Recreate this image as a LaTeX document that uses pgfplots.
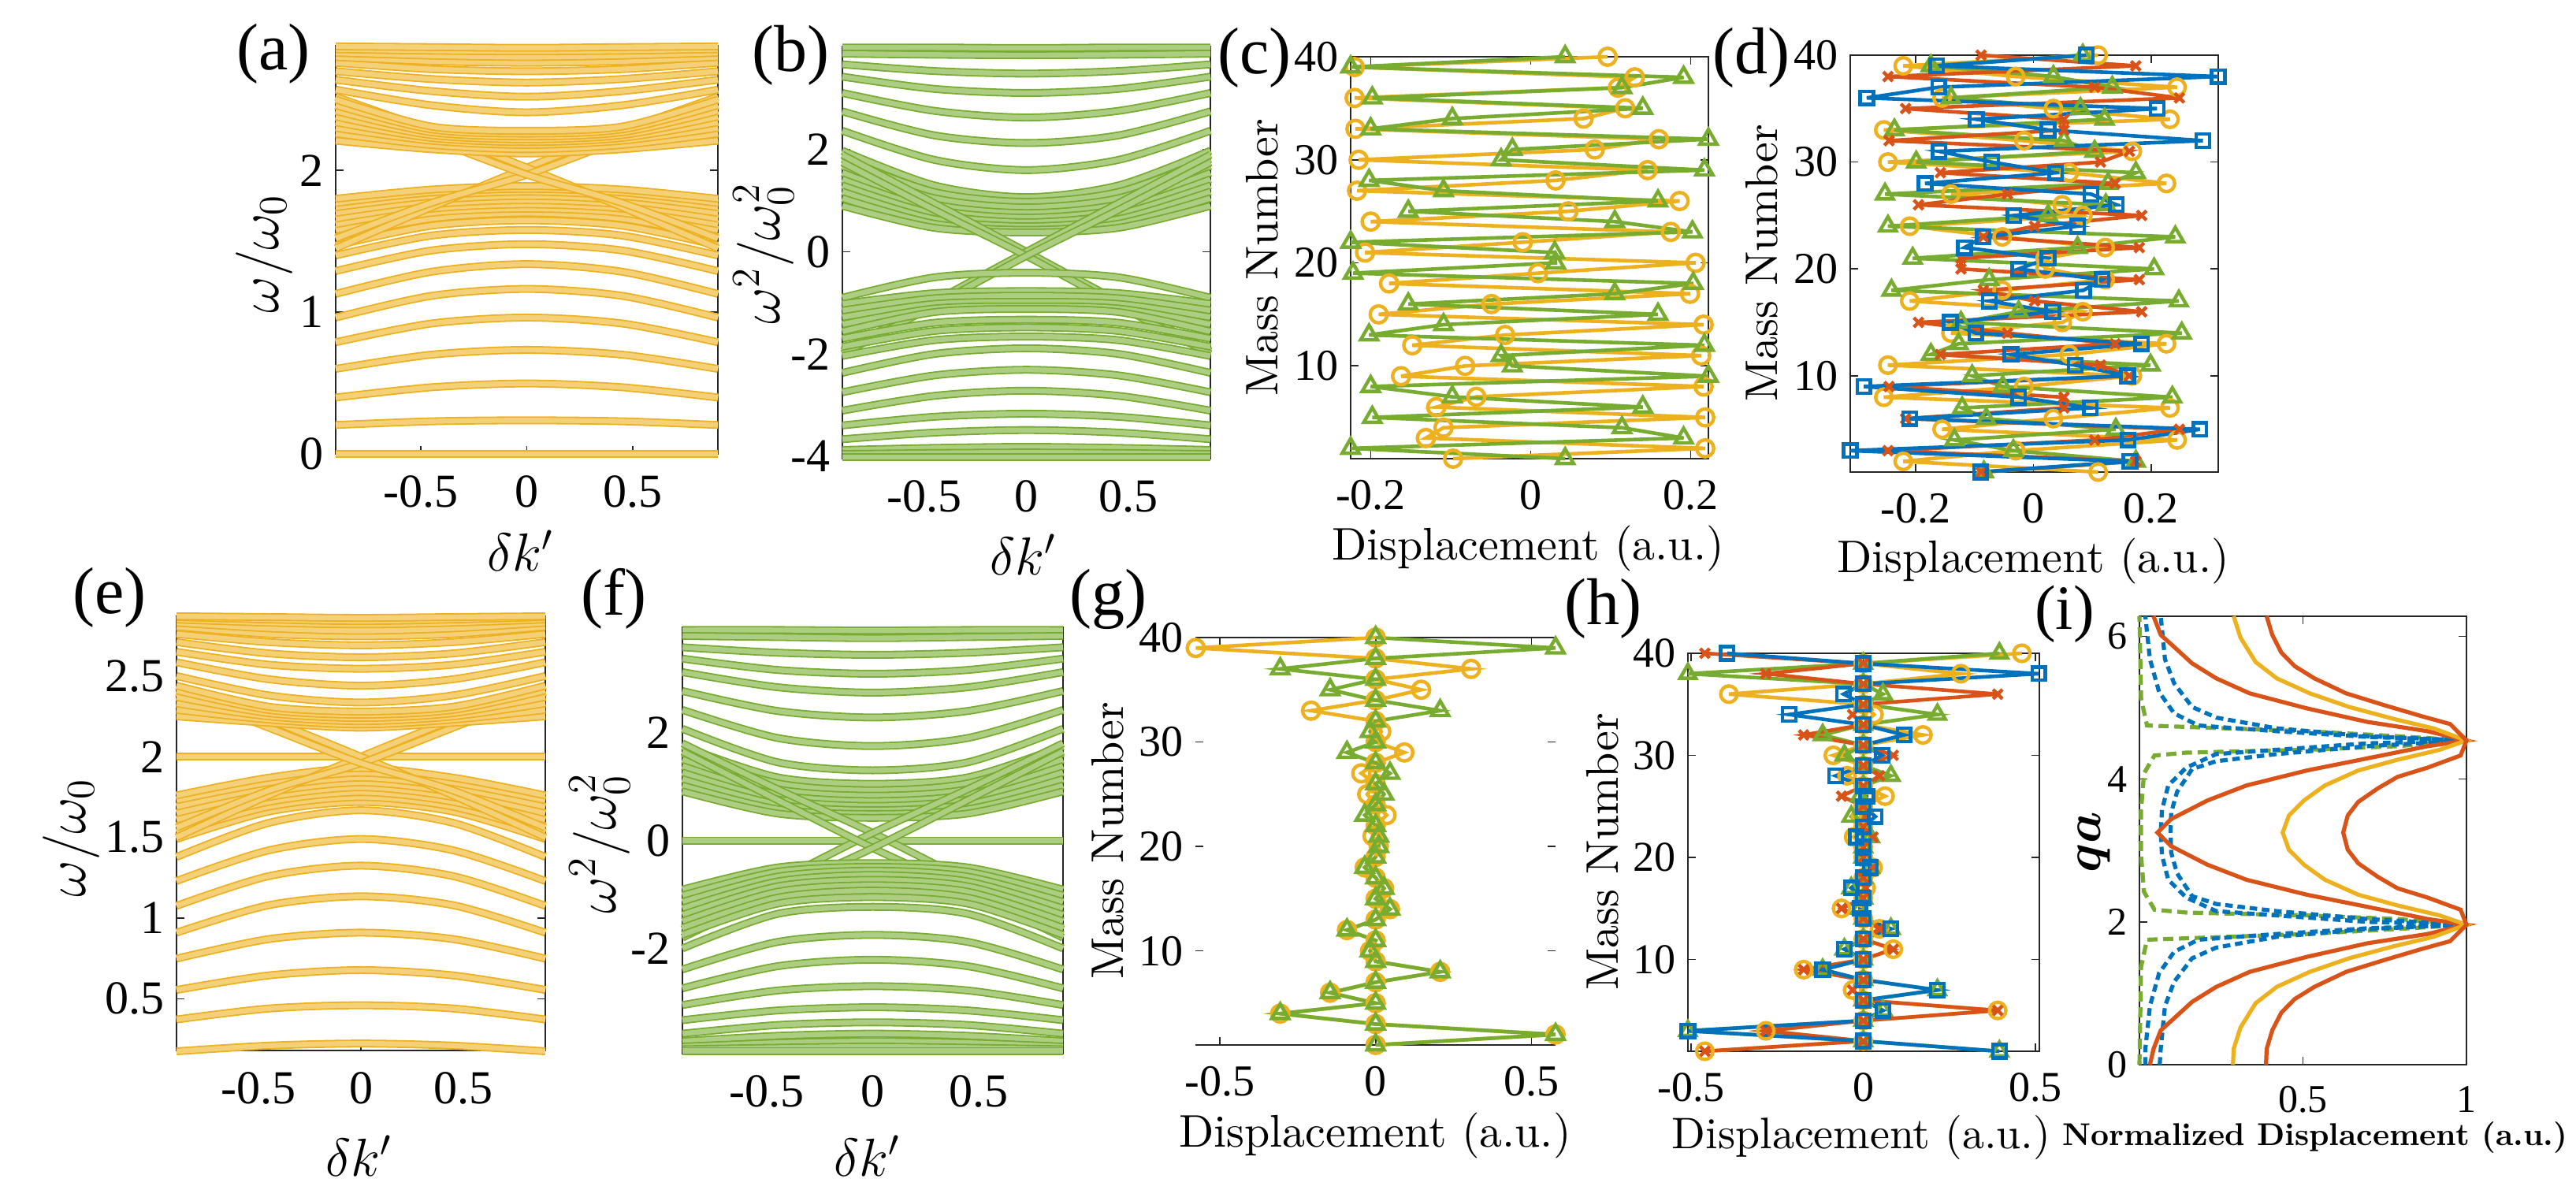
\documentclass[border=0pt]{standalone}
\usepackage{fix-cm}
\usepackage{amsmath}
\usepackage{fontspec}
\usepackage{pgfplots}
\pgfplotsset{compat=1.18}
\newfontfamily\tnr{Liberation Serif}
\newfontfamily\lmten{lmroman10-regular}[Extension=.otf, BoldFont=lmroman10-bold]

\definecolor{mBlue}{rgb}{0,0.447,0.741}
\definecolor{mRed}{rgb}{0.85,0.325,0.098}
\definecolor{mOrange}{rgb}{0.929,0.694,0.125}
\definecolor{mGreen}{rgb}{0.466,0.674,0.188}
\definecolor{frame}{rgb}{0.15,0.15,0.15}

\newcommand\fs[1]{\fontsize{#1}{#1}\selectfont}
% symmetric band: value at the edge, half way, centre
\newcommand\bnd[3]{\addplot[thisband] coordinates {(-0.9,#1)(-0.45,#2)(0,#3)(0.45,#2)(0.9,#1)};}
% band given at five points
\newcommand\bndx[5]{\addplot[thisband] coordinates {(-0.9,#1)(-0.45,#2)(0,#3)(0.45,#4)(0.9,#5)};}

\pgfplotsset{
  fr/.style={scale only axis, anchor=south west, clip=false,
    axis line style={line width=0.4pt, frame},
    every tick/.style={line width=0.4pt, frame},
    tick align=inside, major tick length=2.4pt,
    tick label style={inner sep=1pt},
    xticklabel style={yshift=-5.6pt}, yticklabel style={xshift=-2.6pt}},
  band/.style={smooth, no markers, line width=0.45pt, draw=#1, double=#1!60, double distance=1.6pt},
  bandax/.style={fr, xmin=-0.9, xmax=0.9, xtick={-0.5,0,0.5}, xticklabels={-0.5,0,0.5},
    tick label style={font=\tnr\fs{15}}},
  disp/.style={line width=1.15pt, mark options={solid, line width=1.1pt}},
}
\tikzset{lab/.style={inner sep=0pt, outer sep=0pt}}

\begin{document}
\begin{tikzpicture}
\useasboundingbox (0,0) rectangle (817.25pt,380.75pt);

% (a)
\begin{axis}[bandax, at={(106.5pt,236.75pt)}, width=121.25pt, height=129.5pt,
  ymin=0, ymax=2.88, ytick={0,1,2}, yticklabels={0,1,2}, thisband/.style={band=mOrange}]
\bnd{0}{0}{0}
\bnd{0.204}{0.23}{0.237}
\bnd{0.398}{0.47}{0.497}
\bnd{0.60}{0.70}{0.734}
\bnd{0.788}{0.92}{0.962}
\bnd{0.962}{1.115}{1.164}
\bnd{1.129}{1.285}{1.339}
\bnd{1.29}{1.435}{1.48}
\bnd{1.40}{1.54}{1.58}
\bnd{1.47}{1.61}{1.648}
\bnd{1.53}{1.66}{1.70}
\bnd{1.58}{1.70}{1.73}
\bnd{1.62}{1.73}{1.76}
\bnd{1.66}{1.76}{1.79}
\bnd{1.70}{1.79}{1.82}
\bnd{1.74}{1.82}{1.85}
\bnd{1.77}{1.845}{1.87}
\bnd{1.80}{1.865}{1.89}
\bndx{1.45}{1.74}{2.02}{2.28}{2.52}
\bndx{2.52}{2.28}{2.02}{1.74}{1.45}
\bndx{1.52}{1.77}{1.97}{2.22}{2.46}
\bndx{2.46}{2.22}{1.97}{1.77}{1.52}
\bnd{2.21}{2.15}{2.12}
\bnd{2.26}{2.18}{2.15}
\bnd{2.30}{2.21}{2.18}
\bnd{2.34}{2.23}{2.20}
\bnd{2.38}{2.25}{2.22}
\bnd{2.42}{2.27}{2.24}
\bnd{2.46}{2.29}{2.26}
\bnd{2.50}{2.31}{2.28}
\bnd{2.57}{2.46}{2.41}
\bnd{2.64}{2.56}{2.52}
\bnd{2.70}{2.645}{2.62}
\bnd{2.76}{2.715}{2.70}
\bnd{2.80}{2.77}{2.76}
\bnd{2.83}{2.81}{2.80}
\bnd{2.855}{2.845}{2.84}
\bnd{2.875}{2.87}{2.865}
\end{axis}

% (b)
\begin{axis}[bandax, at={(267.25pt,235.25pt)}, width=116.75pt, height=130.75pt,
  ymin=-4.05, ymax=4.02, ytick={-4,-2,0,2}, yticklabels={-4,-2,0,2}, thisband/.style={band=mGreen}]
\bnd{4.0}{4.0}{3.99}
\bnd{3.88}{3.86}{3.85}
\bnd{3.67}{3.54}{3.49}
\bnd{3.43}{3.19}{3.11}
\bnd{3.11}{2.76}{2.63}
\bnd{2.75}{2.28}{2.13}
\bnd{2.37}{1.80}{1.60}
\bnd{1.98}{1.30}{1.07}
\bnd{1.82}{1.17}{0.98}
\bnd{1.68}{1.05}{0.87}
\bnd{1.55}{0.93}{0.76}
\bnd{1.42}{0.83}{0.67}
\bnd{1.30}{0.74}{0.58}
\bnd{1.18}{0.64}{0.50}
\bnd{1.05}{0.55}{0.43}
\bnd{0.90}{0.47}{0.38}
\bndx{1.90}{0.95}{0}{-0.97}{-1.95}
\bndx{-1.95}{-0.97}{0}{0.95}{1.90}
\bndx{1.75}{0.82}{-0.08}{-1.05}{-2.0}
\bndx{-2.0}{-1.05}{-0.08}{0.82}{1.75}
\bnd{-0.90}{-0.50}{-0.41}
\bnd{-1.02}{-0.81}{-0.77}
\bnd{-1.15}{-0.91}{-0.86}
\bnd{-1.28}{-1.02}{-0.98}
\bnd{-1.42}{-1.11}{-1.07}
\bnd{-1.56}{-1.18}{-1.12}
\bnd{-1.70}{-1.39}{-1.33}
\bnd{-1.86}{-1.55}{-1.48}
\bnd{-2.04}{-1.73}{-1.66}
\bnd{-2.37}{-2.00}{-1.89}
\bnd{-2.75}{-2.42}{-2.31}
\bnd{-3.11}{-2.82}{-2.72}
\bnd{-3.40}{-3.23}{-3.17}
\bnd{-3.67}{-3.54}{-3.49}
\bnd{-3.88}{-3.84}{-3.82}
\bnd{-3.96}{-3.94}{-3.93}
\bnd{-4.02}{-4.02}{-4.02}
\end{axis}

% (c)
\begin{axis}[fr, at={(428.5pt,235.25pt)}, width=113.5pt, height=127.5pt,
  xmin=-0.225, xmax=0.222, ymin=1, ymax=40,
  xtick={-0.2,0,0.2}, xticklabels={-0.2,0,0.2}, ytick={10,20,30,40}, yticklabels={10,20,30,40},
  tick label style={font=\tnr\fs{14}}]
\addplot[disp, mOrange, mark=o, mark size=2.7pt] coordinates {
(-0.097,1)(0.218,2)(-0.131,3)(-0.109,4)(0.218,5)(-0.118,6)(-0.068,7)(0.216,8)(-0.162,9)(-0.082,10)
(0.213,11)(-0.148,12)(-0.032,13)(0.216,14)(-0.19,15)(-0.049,16)(0.199,17)(-0.177,18)(0.009,19)(0.206,20)
(-0.207,21)(-0.01,22)(0.175,23)(-0.2,24)(0.047,25)(0.186,26)(-0.217,27)(0.031,28)(0.146,29)(-0.215,30)
(0.08,31)(0.16,32)(-0.219,33)(0.066,34)(0.118,35)(-0.22,36)(0.109,37)(0.13,38)(-0.22,39)(0.096,40)};
\addplot[disp, mGreen, mark=triangle, mark size=3.1pt] coordinates {
(0.043,1)(-0.225,2)(0.191,3)(0.114,4)(-0.198,5)(0.14,6)(-0.098,7)(-0.2,8)(0.222,9)(-0.023,10)
(-0.037,11)(0.217,12)(-0.202,13)(-0.109,14)(0.159,15)(-0.153,16)(0.105,17)(0.203,18)(-0.222,19)(0.031,20)
(0.03,21)(-0.225,22)(0.202,23)(0.105,24)(-0.153,25)(0.159,26)(-0.109,27)(-0.202,28)(0.217,29)(-0.037,30)
(-0.023,31)(0.222,32)(-0.2,33)(-0.098,34)(0.14,35)(-0.198,36)(0.114,37)(0.191,38)(-0.225,39)(0.043,40)};
\end{axis}

% (d)
\begin{axis}[fr, at={(587pt,231pt)}, width=116.75pt, height=132.25pt,
  xmin=-0.311, xmax=0.314, ymin=1, ymax=40,
  xtick={-0.2,0,0.2}, xticklabels={-0.2,0,0.2}, ytick={10,20,30,40}, yticklabels={10,20,30,40},
  tick label style={font=\tnr\fs{14}}]
\addplot[disp, mOrange, mark=o, mark size=2.6pt] coordinates {
(0.11,1)(-0.221,2)(-0.03,3)(0.244,4)(-0.155,5)(0.034,6)(0.232,7)(-0.254,8)(-0.016,9)(0.168,10)
(-0.247,11)(0.061,12)(0.226,13)(-0.14,14)(0.049,15)(0.084,16)(-0.21,17)(-0.053,18)(0.122,19)(0.02,20)
(0.02,21)(0.122,22)(-0.053,23)(-0.21,24)(0.084,25)(0.049,26)(-0.14,27)(0.226,28)(0.061,29)(-0.247,30)
(0.168,31)(-0.016,32)(-0.254,33)(0.232,34)(0.034,35)(-0.155,36)(0.244,37)(-0.03,38)(-0.221,39)(0.11,40)};
\addplot[disp, mGreen, mark=triangle, mark size=3pt] coordinates {
(-0.084,1)(0.174,2)(-0.034,3)(-0.134,4)(0.14,5)(-0.08,6)(-0.121,7)(0.236,8)(-0.052,9)(-0.104,10)
(0.199,11)(-0.174,12)(-0.127,13)(0.252,14)(-0.123,15)(-0.025,16)(0.247,17)(-0.241,18)(-0.075,19)(0.205,20)
(-0.205,21)(0.075,22)(0.241,23)(-0.247,24)(0.025,25)(0.123,26)(-0.252,27)(0.127,28)(0.174,29)(-0.199,30)
(0.104,31)(0.052,32)(-0.236,33)(0.121,34)(0.08,35)(-0.14,36)(0.134,37)(0.034,38)(-0.174,39)(0.084,40)};
\addplot[disp, mRed, mark=x, mark size=2.1pt] coordinates {
(-0.089,1)(0.174,2)(-0.247,3)(0.104,4)(0.248,5)(-0.217,6)(0.052,7)(0.052,8)(-0.245,9)(0.163,10)
(0.114,11)(-0.158,12)(0.139,13)(-0.044,14)(-0.195,15)(0.184,16)(0.002,17)(-0.085,18)(0.18,19)(-0.123,20)
(-0.123,21)(0.18,22)(-0.085,23)(0.002,24)(0.184,25)(-0.195,26)(-0.044,27)(0.139,28)(-0.158,29)(0.114,30)
(0.163,31)(-0.245,32)(0.052,33)(0.052,34)(-0.217,35)(0.248,36)(0.104,37)(-0.247,38)(0.174,39)(-0.089,40)};
\addplot[disp, mBlue, mark=square, mark size=2.1pt] coordinates {
(-0.09,1)(0.164,2)(-0.311,3)(0.161,4)(0.283,5)(-0.21,6)(0.097,7)(-0.025,8)(-0.288,9)(0.16,10)
(0.071,11)(-0.038,12)(0.184,13)(-0.098,14)(-0.141,15)(0.033,16)(-0.075,17)(0.085,18)(0.117,19)(-0.025,20)
(0.025,21)(-0.117,22)(-0.085,23)(0.075,24)(-0.033,25)(0.141,26)(0.098,27)(-0.184,28)(0.038,29)(-0.071,30)
(-0.16,31)(0.288,32)(0.025,33)(-0.097,34)(0.21,35)(-0.283,36)(-0.161,37)(0.314,38)(-0.164,39)(0.09,40)};
\end{axis}

% (e)
\begin{axis}[bandax, at={(56pt,47.5pt)}, width=117pt, height=137.75pt,
  ymin=0.18, ymax=2.87, ytick={0.5,1,1.5,2,2.5}, yticklabels={0.5,1,1.5,2,2.5}, thisband/.style={band=mOrange}]
\bnd{0.175}{0.21}{0.223}
\bnd{0.372}{0.44}{0.46}
\bnd{0.555}{0.645}{0.678}
\bnd{0.749}{0.87}{0.91}
\bnd{0.91}{1.08}{1.135}
\bnd{1.076}{1.26}{1.325}
\bnd{1.23}{1.42}{1.49}
\bnd{1.379}{1.59}{1.668}
\bnd{1.49}{1.66}{1.72}
\bnd{1.53}{1.69}{1.75}
\bnd{1.57}{1.72}{1.78}
\bnd{1.61}{1.75}{1.81}
\bnd{1.65}{1.78}{1.84}
\bnd{1.69}{1.81}{1.87}
\bnd{1.73}{1.84}{1.90}
\bnd{1.76}{1.87}{1.93}
\bnd{2.0}{2.0}{2.0}
\bndx{1.50}{1.76}{2.0}{2.23}{2.44}
\bndx{2.44}{2.23}{2.0}{1.76}{1.50}
\bndx{1.56}{1.79}{1.96}{2.18}{2.40}
\bndx{2.40}{2.18}{1.96}{1.79}{1.56}
\bnd{2.25}{2.21}{2.18}
\bnd{2.29}{2.23}{2.20}
\bnd{2.33}{2.25}{2.22}
\bnd{2.37}{2.27}{2.24}
\bnd{2.41}{2.29}{2.26}
\bnd{2.44}{2.31}{2.28}
\bnd{2.50}{2.38}{2.336}
\bnd{2.585}{2.48}{2.44}
\bnd{2.65}{2.57}{2.545}
\bnd{2.71}{2.64}{2.616}
\bnd{2.76}{2.71}{2.69}
\bnd{2.805}{2.76}{2.746}
\bnd{2.83}{2.795}{2.78}
\bnd{2.85}{2.83}{2.82}
\bnd{2.865}{2.85}{2.84}
\bnd{2.87}{2.865}{2.86}
\end{axis}

% (f)
\begin{axis}[bandax, at={(216.5pt,46.5pt)}, width=120.75pt, height=135.25pt,
  ymin=-3.95, ymax=3.95, ytick={-2,0,2}, yticklabels={-2,0,2}, thisband/.style={band=mGreen}]
\bnd{3.90}{3.90}{3.89}
\bnd{3.79}{3.77}{3.75}
\bnd{3.58}{3.48}{3.44}
\bnd{3.37}{3.16}{3.09}
\bnd{3.12}{2.84}{2.74}
\bnd{2.77}{2.40}{2.28}
\bnd{2.42}{1.90}{1.75}
\bnd{2.07}{1.45}{1.30}
\bnd{1.75}{1.17}{1.05}
\bnd{1.62}{1.06}{0.93}
\bnd{1.50}{0.95}{0.83}
\bnd{1.38}{0.85}{0.73}
\bnd{1.26}{0.76}{0.64}
\bnd{1.14}{0.67}{0.56}
\bnd{1.02}{0.58}{0.49}
\bnd{0.91}{0.50}{0.42}
\bnd{0}{0}{0}
\bndx{1.80}{0.95}{0.14}{-0.75}{-1.65}
\bndx{-1.65}{-0.75}{0.14}{0.95}{1.80}
\bndx{1.65}{0.75}{-0.14}{-0.95}{-1.80}
\bndx{-1.80}{-0.95}{-0.14}{0.75}{1.65}
\bnd{-0.91}{-0.50}{-0.42}
\bnd{-1.02}{-0.58}{-0.49}
\bnd{-1.14}{-0.67}{-0.56}
\bnd{-1.26}{-0.76}{-0.64}
\bnd{-1.38}{-0.85}{-0.73}
\bnd{-1.50}{-0.95}{-0.83}
\bnd{-1.62}{-1.06}{-0.93}
\bnd{-1.75}{-1.17}{-1.05}
\bnd{-2.0}{-1.36}{-1.23}
\bnd{-2.39}{-1.88}{-1.75}
\bnd{-2.74}{-2.33}{-2.21}
\bnd{-3.05}{-2.78}{-2.70}
\bnd{-3.33}{-3.15}{-3.09}
\bnd{-3.58}{-3.42}{-3.37}
\bnd{-3.72}{-3.62}{-3.58}
\bnd{-3.82}{-3.75}{-3.72}
\bnd{-3.87}{-3.84}{-3.82}
\bnd{-3.90}{-3.90}{-3.90}
\end{axis}

% (g)
\begin{axis}[fr, at={(379.25pt,49.25pt)}, width=114.25pt, height=129.25pt,
  separate axis lines, y axis line style={draw=none},
  xmin=-0.578, xmax=0.577, ymin=1, ymax=40,
  xtick={-0.5,0,0.5}, xticklabels={-0.5,0,0.5}, ytick={10,20,30,40}, yticklabels={10,20,30,40},
  tick label style={font=\tnr\fs{14}}]
\addplot[disp, mOrange, mark=o, mark size=2.7pt] coordinates {
(0,1)(0.577,2)(0,3)(-0.306,4)(0,5)(-0.146,6)(0,7)(0.207,8)(0,9)(-0.018,10)
(0,11)(-0.092,12)(0,13)(0.046,14)(0,15)(0.027,16)(0,17)(-0.035,18)(0,19)(0.01,20)
(-0.01,21)(0,22)(0.035,23)(0,24)(-0.027,25)(0,26)(-0.046,27)(0,28)(0.092,29)(0,30)
(0.018,31)(0,32)(-0.207,33)(0,34)(0.146,35)(0,36)(0.306,37)(0,38)(-0.577,39)(0,40)};
\addplot[disp, mGreen, mark=triangle, mark size=3.1pt] coordinates {
(0,1)(0.577,2)(0,3)(-0.306,4)(0,5)(-0.146,6)(0,7)(0.207,8)(0,9)(-0.018,10)
(0,11)(-0.092,12)(0,13)(0.046,14)(0,15)(0.027,16)(0,17)(-0.035,18)(0,19)(0.01,20)
(0.01,21)(0,22)(-0.035,23)(0,24)(0.027,25)(0,26)(0.046,27)(0,28)(-0.092,29)(0,30)
(-0.018,31)(0,32)(0.207,33)(0,34)(-0.146,35)(0,36)(-0.306,37)(0,38)(0.577,39)(0,40)};
\end{axis}

% (h)
\begin{axis}[fr, at={(535.5pt,47.25pt)}, width=111.5pt, height=126.25pt,
  xmin=-0.509, xmax=0.511, ymin=1, ymax=40,
  xtick={-0.5,0,0.5}, xticklabels={-0.5,0,0.5}, ytick={10,20,30,40}, yticklabels={10,20,30,40},
  tick label style={font=\tnr\fs{13.5}}]
\addplot[disp, mOrange, mark=o, mark size=2.6pt] coordinates {
(-0.46,1)(0,2)(-0.283,3)(0,4)(0.39,5)(0,6)(-0.031,7)(0,8)(-0.173,9)(0,10)
(0.087,11)(0,12)(0.047,13)(0,14)(-0.063,15)(0,16)(0.008,17)(0,18)(0.028,19)(0,20)
(0,21)(-0.028,22)(0,23)(-0.008,24)(0,25)(0.063,26)(0,27)(-0.047,28)(0,29)(-0.087,30)
(0,31)(0.173,32)(0,33)(0.031,34)(0,35)(-0.39,36)(0,37)(0.283,38)(0,39)(0.46,40)};
\addplot[disp, mGreen, mark=triangle, mark size=2.9pt] coordinates {
(0.395,1)(0,2)(-0.509,3)(0,4)(0.057,5)(0,6)(0.215,7)(0,8)(-0.118,9)(0,10)
(-0.055,11)(0,12)(0.08,13)(0,14)(-0.01,15)(0,16)(-0.035,17)(0,18)(0.02,19)(0,20)
(0,21)(0.02,22)(0,23)(-0.035,24)(0,25)(-0.01,26)(0,27)(0.08,28)(0,29)(-0.055,30)
(0,31)(-0.118,32)(0,33)(0.215,34)(0,35)(0.057,36)(0,37)(-0.509,38)(0,39)(0.395,40)};
\addplot[disp, mRed, mark=x, mark size=2.1pt] coordinates {
(-0.46,1)(0,2)(-0.283,3)(0,4)(0.39,5)(0,6)(-0.031,7)(0,8)(-0.173,9)(0,10)
(0.087,11)(0,12)(0.047,13)(0,14)(-0.063,15)(0,16)(0.008,17)(0,18)(0.028,19)(0,20)
(0,21)(0.028,22)(0,23)(0.008,24)(0,25)(-0.063,26)(0,27)(0.047,28)(0,29)(0.087,30)
(0,31)(-0.173,32)(0,33)(-0.031,34)(0,35)(0.39,36)(0,37)(-0.283,38)(0,39)(-0.46,40)};
\addplot[disp, mBlue, mark=square, mark size=2.1pt] coordinates {
(0.395,1)(0,2)(-0.509,3)(0,4)(0.057,5)(0,6)(0.215,7)(0,8)(-0.118,9)(0,10)
(-0.055,11)(0,12)(0.08,13)(0,14)(-0.01,15)(0,16)(-0.035,17)(0,18)(0.02,19)(0,20)
(0,21)(-0.02,22)(0,23)(0.035,24)(0,25)(0.01,26)(0,27)(-0.08,28)(0,29)(0.055,30)
(0,31)(0.118,32)(0,33)(-0.215,34)(0,35)(-0.057,36)(0,37)(0.509,38)(0,39)(-0.395,40)};
\end{axis}

% (i)
\begin{axis}[fr, at={(678.75pt,43pt)}, width=103.75pt, height=142.25pt,
  xmin=0, xmax=1, ymin=0, ymax=6.28,
  xtick={0.5,1}, xticklabels={0.5,1}, ytick={0,2,4,6}, yticklabels={0,2,4,6},
  tick label style={font=\tnr\fs{12.5}}]
\addplot[mGreen, line width=1.3pt, dash pattern=on 3.2pt off 1.8pt] coordinates {
(0,0)(0.005,1.37)(0.023,1.75)(0.143,1.77)(0.512,1.83)(0.789,1.9)(1,1.96)(0.789,2.04)(0.512,2.09)
(0.143,2.13)(0.046,2.17)(0.014,2.42)(0.005,2.93)(0.005,3.25)(0.005,3.57)(0.014,4.08)(0.046,4.33)
(0.143,4.37)(0.512,4.41)(0.789,4.46)(1,4.54)(0.789,4.6)(0.512,4.67)(0.143,4.73)(0.023,4.75)
(0.005,5.13)(0,6.28)};
\addplot[mBlue, line width=1.3pt, dash pattern=on 2.4pt off 1.5pt] coordinates {
(0.018,0)(0.018,0.22)(0.032,0.82)(0.06,1.28)(0.106,1.58)(0.18,1.75)(0.42,1.83)(0.697,1.91)(1,1.96)
(0.697,2.0)(0.42,2.09)(0.235,2.15)(0.143,2.34)(0.088,2.59)(0.069,2.93)(0.065,3.25)(0.069,3.57)
(0.088,3.91)(0.143,4.16)(0.235,4.35)(0.42,4.41)(0.697,4.5)(1,4.54)(0.697,4.59)(0.42,4.67)
(0.18,4.75)(0.106,4.92)(0.06,5.22)(0.032,5.68)(0.018,6.28)};
\addplot[mBlue, line width=1.3pt, dash pattern=on 2.4pt off 1.5pt] coordinates {
(0.062,0)(0.065,0.22)(0.078,0.82)(0.106,1.16)(0.161,1.49)(0.235,1.64)(0.42,1.79)(0.697,1.90)(1,1.96)
(0.697,2.04)(0.42,2.15)(0.235,2.25)(0.161,2.36)(0.115,2.68)(0.097,2.97)(0.095,3.25)(0.097,3.53)
(0.115,3.82)(0.161,4.14)(0.235,4.25)(0.42,4.35)(0.697,4.46)(1,4.54)(0.697,4.6)(0.42,4.71)
(0.235,4.86)(0.161,5.01)(0.106,5.34)(0.078,5.68)(0.065,6.28)};
\addplot[mRed, line width=1.3pt] coordinates {
(0.032,0)(0.043,0.22)(0.065,0.48)(0.106,0.65)(0.161,0.88)(0.235,1.09)(0.337,1.30)(0.512,1.51)
(0.697,1.70)(0.881,1.83)(1,1.96)(0.881,2.04)(0.697,2.21)(0.512,2.38)(0.327,2.59)(0.208,2.8)
(0.097,3.06)(0.055,3.25)(0.097,3.44)(0.208,3.7)(0.327,3.91)(0.512,4.12)(0.697,4.29)(0.881,4.46)
(1,4.54)(0.881,4.67)(0.697,4.8)(0.512,4.99)(0.337,5.2)(0.235,5.41)(0.161,5.62)(0.106,5.85)
(0.065,6.02)(0.043,6.28)};
\addplot[mOrange, line width=1.3pt] coordinates {
(0.286,0)(0.288,0.22)(0.309,0.52)(0.355,0.86)(0.42,1.09)(0.521,1.30)(0.641,1.49)(0.779,1.66)
(0.899,1.79)(1,1.96)(0.918,2.09)(0.789,2.23)(0.669,2.38)(0.567,2.59)(0.503,2.8)(0.457,3.01)
(0.438,3.25)(0.457,3.49)(0.503,3.7)(0.567,3.91)(0.669,4.12)(0.789,4.27)(0.918,4.41)(1,4.54)
(0.899,4.71)(0.779,4.84)(0.641,5.01)(0.521,5.2)(0.42,5.41)(0.355,5.64)(0.309,5.98)(0.288,6.28)};
\addplot[mRed, line width=1.3pt] coordinates {
(0.387,0)(0.389,0.22)(0.406,0.48)(0.434,0.73)(0.475,0.92)(0.535,1.09)(0.632,1.30)(0.752,1.47)
(0.863,1.62)(0.95,1.73)(1,1.96)(0.982,2.17)(0.881,2.34)(0.789,2.47)(0.729,2.63)(0.669,2.82)
(0.637,3.01)(0.623,3.25)(0.637,3.49)(0.669,3.68)(0.729,3.87)(0.789,4.03)(0.881,4.16)(0.982,4.33)
(1,4.54)(0.95,4.77)(0.863,4.88)(0.752,5.03)(0.632,5.2)(0.535,5.41)(0.475,5.58)(0.434,5.77)
(0.406,6.02)(0.389,6.28)};
\end{axis}

% panel letters
\node[lab, font=\tnr\fs{21}] at (86.75pt,363.75pt) {(a)};
\node[lab, font=\tnr\fs{21}] at (250.75pt,363.25pt) {(b)};
\node[lab, font=\tnr\fs{21}] at (398pt,362.5pt) {(c)};
\node[lab, font=\tnr\fs{21}] at (555.5pt,362.5pt) {(d)};
\node[lab, font=\tnr\fs{21}] at (34.75pt,191.25pt) {(e)};
\node[lab, font=\tnr\fs{21}] at (194.75pt,190.75pt) {(f)};
\node[lab, font=\tnr\fs{21}] at (351.5pt,190.75pt) {(g)};
\node[lab, font=\tnr\fs{21}] at (508.5pt,187.75pt) {(h)};
\node[lab, font=\tnr\fs{20}] at (655pt,186pt) {(i)};

% axis labels
\node[lab, rotate=90, font=\fs{18}] at (83.75pt,300.25pt) {$\omega/\omega_0$};
\node[lab, rotate=90, font=\fs{18}] at (242.25pt,300.25pt) {$\omega^2/\omega_0^2$};
\node[lab, rotate=90, font=\lmten\fs{14.5}] at (400.5pt,299pt) {Mass Number};
\node[lab, rotate=90, font=\lmten\fs{14.5}] at (559pt,297.25pt) {Mass Number};
\node[lab, rotate=90, font=\fs{18}] at (22.75pt,115pt) {$\omega/\omega_0$};
\node[lab, rotate=90, font=\fs{18}] at (190.25pt,113.25pt) {$\omega^2/\omega_0^2$};
\node[lab, rotate=90, font=\lmten\fs{14.5}] at (351.5pt,114pt) {Mass Number};
\node[lab, rotate=90, font=\lmten\fs{14.5}] at (508.5pt,110.5pt) {Mass Number};
\node[lab, rotate=90, font=\fs{16}] at (664.25pt,113.5pt) {$\boldsymbol{qa}$};
\node[lab, font=\fs{17}] at (165.25pt,206pt) {$\delta k'$};
\node[lab, font=\fs{17}] at (324.75pt,204.75pt) {$\delta k'$};
\node[lab, font=\lmten\fs{14.5}] at (484.75pt,206.75pt) {Displacement (a.u.)};
\node[lab, font=\lmten\fs{14.5}] at (645pt,202.75pt) {Displacement (a.u.)};
\node[lab, font=\fs{17}] at (114pt,14pt) {$\delta k'$};
\node[lab, font=\fs{17}] at (275.25pt,14pt) {$\delta k'$};
\node[lab, font=\lmten\fs{14.5}] at (436.25pt,20.5pt) {Displacement (a.u.)};
\node[lab, font=\lmten\fs{14}] at (590.5pt,20pt) {Displacement (a.u.)};
\node[lab, font=\lmten\bfseries\fs{10}] at (734.5pt,20pt) {Normalized Displacement (a.u.)};
\end{tikzpicture}
\end{document}
